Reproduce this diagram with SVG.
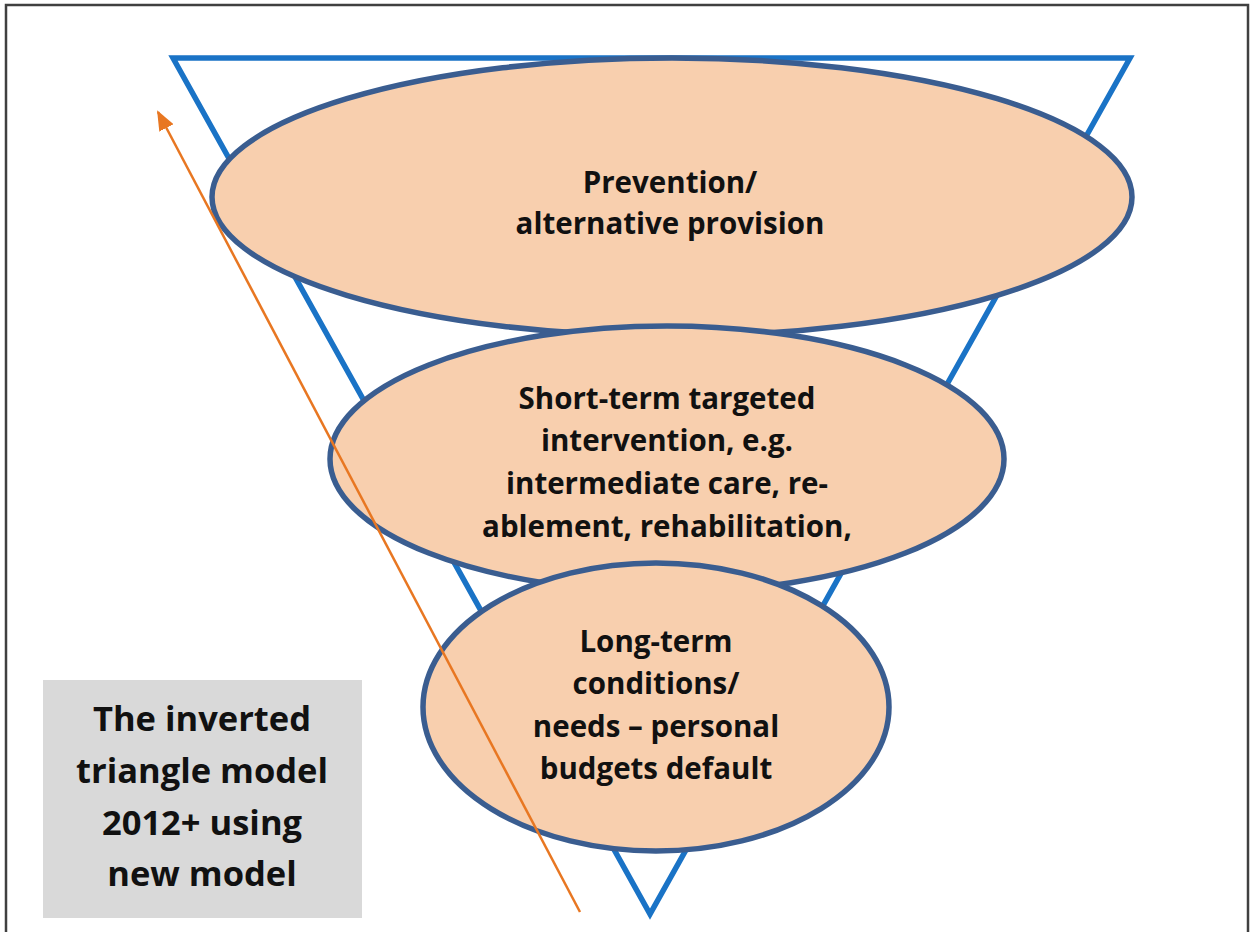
<svg xmlns="http://www.w3.org/2000/svg" width="1254" height="932" viewBox="0 0 1254 932">
  <defs>
    <marker id="arrowhead" markerWidth="20" markerHeight="16" refX="18" refY="8" orient="auto" markerUnits="userSpaceOnUse" viewBox="0 0 20 16">
      <path d="M0,0 L20,8 L0,16 z" fill="#e87722"/>
    </marker>
    <style>
      .frame { fill: #ffffff; stroke: #404040; stroke-width: 2.5; }
      .tri { fill: none; stroke: #1a73c6; stroke-width: 5.5; stroke-linejoin: miter; }
      .stage { fill: #f8cfae; stroke: #3a5d90; stroke-width: 5.5; }
      .label { font-family: "Open Sans", "Liberation Sans", sans-serif; font-weight: bold; font-size: 29.5px; fill: #111111; text-anchor: middle; }
      .caption-box { fill: #d9d9d9; }
      .caption { font-family: "Open Sans", "Liberation Sans", sans-serif; font-weight: bold; font-size: 34.5px; fill: #111111; text-anchor: middle; }
      .flow { stroke: #e87722; stroke-width: 2.5; fill: none; }
    </style>
  </defs>

  <!-- page frame -->
  <rect class="frame" x="6" y="5" width="1242" height="940"/>

  <!-- inverted triangle outline -->
  <g id="triangle">
    <polygon class="tri" points="173,58 1130,58 650,914"/>
  </g>

  <!-- top tier -->
  <g id="node-prevention">
    <ellipse class="stage" cx="672" cy="197" rx="460" ry="139"/>
    <text class="label" x="670" y="193">Prevention/</text>
    <text class="label" x="670" y="234">alternative provision</text>
  </g>

  <!-- middle tier -->
  <g id="node-short-term">
    <ellipse class="stage" cx="667" cy="459" rx="337" ry="133"/>
    <text class="label" x="667" y="409">Short-term targeted</text>
    <text class="label" x="667" y="451">intervention, e.g.</text>
    <text class="label" x="667" y="494">intermediate care, re-</text>
    <text class="label" x="667" y="537">ablement, rehabilitation,</text>
  </g>

  <!-- bottom tier -->
  <g id="node-long-term">
    <ellipse class="stage" cx="656" cy="707" rx="233" ry="144"/>
    <text class="label" x="656" y="652">Long-term</text>
    <text class="label" x="656" y="694">conditions/</text>
    <text class="label" x="656" y="737">needs – personal</text>
    <text class="label" x="656" y="779">budgets default</text>
  </g>

  <!-- caption box -->
  <g id="node-caption">
    <rect class="caption-box" x="43" y="680" width="319" height="238"/>
    <text class="caption" x="202" y="731">The inverted</text>
    <text class="caption" x="202" y="783">triangle model</text>
    <text class="caption" x="202" y="835">2012+ using</text>
    <text class="caption" x="202" y="886">new model</text>
  </g>

  <!-- direction arrow -->
  <g id="connectors">
    <line class="flow" x1="580" y1="912" x2="158" y2="112" marker-end="url(#arrowhead)"/>
  </g>
</svg>
